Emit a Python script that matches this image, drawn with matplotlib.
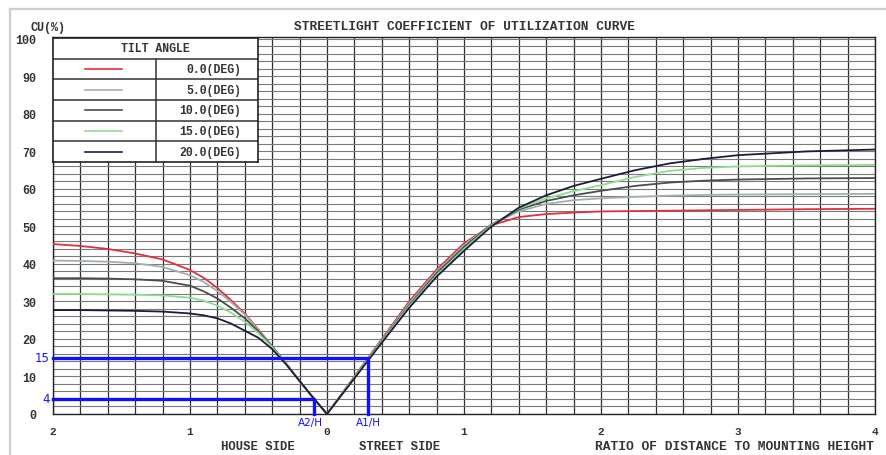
import numpy as np
import matplotlib
matplotlib.use("Agg")
import matplotlib.pyplot as plt
from matplotlib.lines import Line2D
from matplotlib.transforms import blended_transform_factory

# ---- data ----
tilt_labels = ["0.0(DEG)", "5.0(DEG)", "10.0(DEG)", "15.0(DEG)", "20.0(DEG)"]
tilt_colors = ["#e0303c", "#9fb0ae", "#4d4d4d", "#90dc90", "#1c1c3a"]

# street side: ratio of distance to mounting height
street_x = [0, 0.2, 0.4, 0.6, 0.8, 1.0, 1.2, 1.4, 1.6, 1.8, 2.0, 2.25, 2.5, 2.75, 3.0, 3.5, 4.0]
street_0 = [0, 10, 20, 30, 38.5, 45.5, 50.3, 52.5, 53.3, 53.7, 54.0, 54.1, 54.2, 54.3, 54.4, 54.6, 54.7]
street_5 = [0, 10, 19.8, 29.5, 38, 45, 50.5, 54, 56, 57, 57.5, 57.9, 58.2, 58.4, 58.5, 58.6, 58.7]
street_10 = [0, 9.8, 19.5, 29, 37.5, 44.5, 50.5, 54.5, 56.8, 58.3, 59.5, 60.8, 61.7, 62.2, 62.5, 62.8, 62.9]
street_15 = [0, 9.7, 19.3, 28.7, 37, 44, 50.3, 54.8, 57.5, 59.4, 61.0, 63.2, 64.8, 65.6, 66.0, 66.3, 66.4]
street_20 = [0, 9.5, 19, 28.3, 36.6, 43.5, 50, 55, 58.3, 60.8, 62.7, 65.0, 66.8, 68.0, 69.0, 70.0, 70.5]

# house side (plotted to the left of 0)
house_x = [0, 0.1, 0.2, 0.3, 0.4, 0.5, 0.6, 0.7, 0.8, 0.9, 1.0, 1.2, 1.4, 1.6, 1.8, 2.0]
house_0 = [0, 4.3, 8.8, 13.5, 18, 22.5, 26.8, 30.3, 33.6, 36.3, 38.4, 41.2, 42.8, 44, 44.8, 45.3]
house_5 = [0, 4.3, 8.8, 13.5, 18, 22.4, 26.5, 29.8, 32.8, 35.2, 37, 39.2, 40.2, 40.6, 40.8, 40.9]
house_10 = [0, 4.3, 8.8, 13.5, 18, 22, 25.5, 28.3, 30.8, 32.7, 34.2, 35.5, 35.9, 36.1, 36.2, 36.2]
house_15 = [0, 4.3, 8.8, 13.4, 17.8, 21.5, 24.6, 27, 28.9, 30.2, 31, 31.6, 31.8, 31.9, 32, 32]
house_20 = [0, 4.3, 8.8, 13.3, 17.3, 20.3, 22.2, 24.1, 25.5, 26.3, 26.8, 27.3, 27.5, 27.6, 27.7, 27.7]

street_curves = [street_0, street_5, street_10, street_15, street_20]
house_curves = [house_0, house_5, house_10, house_15, house_20]

cu_street = 15   # CU read on street side
cu_house = 4     # CU read on house side

x_ticks = [-2, -1, 0, 1, 2, 3, 4]
x_ticklabels = ["2", "1", "0", "1", "2", "3", "4"]
y_ticks = [0, 10, 20, 30, 40, 50, 60, 70, 80, 90, 100]

mono = "Liberation Mono"

fig = plt.figure(figsize=(8.86, 4.56), dpi=100)
ax = fig.add_axes([53 / 886, 41 / 456, 822 / 886, 377 / 456])
ax.set_xlim(-2, 4)
ax.set_ylim(0, 100.5)

# grid
for gx in np.arange(-2, 4.001, 0.2):
    ax.axvline(gx, color="#2e2e2e", lw=0.9, zorder=1)
for gy in np.arange(0, 100.5, 2):
    ax.axhline(gy, color="#7a7a7a", lw=0.8, zorder=1)

for s in ax.spines.values():
    s.set_color("#222222")
    s.set_linewidth(1.0)

# curves
for sx, hy, col in zip(street_curves, house_curves, tilt_colors):
    ax.plot(street_x, sx, color=col, lw=1.3, zorder=3)
    ax.plot(-np.array(house_x), hy, color=col, lw=1.3, zorder=3)

# read-off lines in blue
a1 = np.interp(cu_street, street_0, street_x)
a2 = np.interp(cu_house, house_0, house_x)
blue = "#1010ff"
ax.plot([-2, a1, a1], [cu_street, cu_street, 0], color=blue, lw=2.4, zorder=4, clip_on=False)
ax.plot([-2, -a2, -a2], [cu_house, cu_house, 0], color=blue, lw=2.4, zorder=4, clip_on=False)

ax.set_xticks(x_ticks)
ax.set_xticklabels(x_ticklabels, fontfamily=mono, fontweight="bold", fontsize=8, color="#333333")
ax.set_yticks(y_ticks)
ax.set_yticklabels([str(v) for v in y_ticks], fontfamily=mono, fontweight="bold", fontsize=8.5, color="#333333")
ax.tick_params(axis="both", length=0)
ax.tick_params(axis="x", pad=9)
ax.tick_params(axis="y", pad=12)

trans = blended_transform_factory(ax.transAxes, ax.transData)
ax.text(-0.004, cu_street, str(cu_street), transform=trans, ha="right", va="center", color=blue, fontsize=8.5)
ax.text(-0.004, cu_house, str(cu_house), transform=trans, ha="right", va="center", color=blue, fontsize=8.5)
trans2 = blended_transform_factory(ax.transData, ax.transAxes)
ax.text(-a2 - 0.03, -0.02, "A2/H", transform=trans2, ha="center", va="center", color=blue, fontsize=7.5)
ax.text(a1, -0.02, "A1/H", transform=trans2, ha="center", va="center", color=blue, fontsize=7.5)

txt = dict(fontfamily=mono, fontweight="bold", color="#333333")
fig.text(464 / 886, 1 - 27 / 456, "STREETLIGHT COEFFICIENT OF UTILIZATION CURVE", ha="center", va="center", fontsize=9.3, **txt)
fig.text(48 / 886, 1 - 28 / 456, "CU(%)", ha="center", va="center", fontsize=8.5, **txt)
fig.text(258 / 886, 1 - 447 / 456, "HOUSE SIDE", ha="center", va="center", fontsize=8.8, **txt)
fig.text(400 / 886, 1 - 447 / 456, "STREET SIDE", ha="center", va="center", fontsize=8.8, **txt)
fig.text(874 / 886, 1 - 447 / 456, "RATIO OF DISTANCE TO MOUNTING HEIGHT", ha="right", va="center", fontsize=9.3, **txt)

# legend table
lg = fig.add_axes([53 / 886, 1 - 163 / 456, 205 / 886, 124 / 456])
lg.set_xlim(0, 1)
lg.set_ylim(0, 6)
lg.set_xticks([])
lg.set_yticks([])
lg.set_facecolor("white")
lg.set_zorder(5)
for s in lg.spines.values():
    s.set_color("#222222")
    s.set_linewidth(1.2)
for r in range(1, 6):
    lg.axhline(r, color="#333333", lw=1.1)
lg.plot([0.5, 0.5], [0, 5], color="#333333", lw=1.1)
lg.text(0.5, 5.5, "TILT ANGLE", ha="center", va="center", fontsize=8.3, **txt)
for i, (lab, col) in enumerate(zip(tilt_labels, tilt_colors)):
    yc = 4.5 - i
    lg.plot([0.155, 0.335], [yc, yc], color=col, lw=1.2)
    lg.text(0.917, yc, lab, ha="right", va="center", fontsize=8.3, **txt)

# light outer frame
fig.add_artist(Line2D([10 / 886, 1], [1 - 10 / 456, 1 - 10 / 456], color="#cfcfcf", lw=1.6))
fig.add_artist(Line2D([10 / 886, 10 / 886], [0, 1 - 10 / 456], color="#cfcfcf", lw=1.6))

fig.savefig("out.png", dpi=100)
